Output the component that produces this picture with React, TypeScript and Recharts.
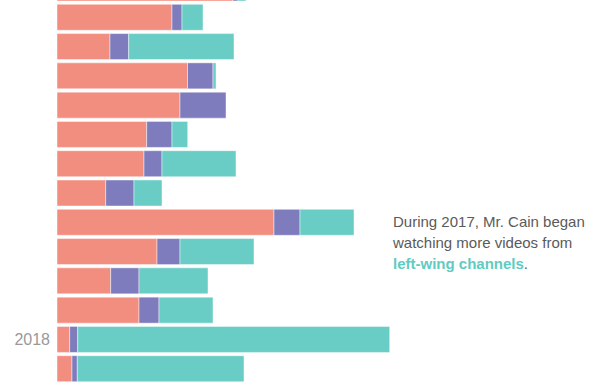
import React from "react";
import { BarChart, Bar, XAxis, YAxis } from "recharts";

const months = [
  "Jan 2017", "Feb 2017", "Mar 2017", "Apr 2017", "May 2017", "Jun 2017", "Jul 2017",
  "Aug 2017", "Sep 2017", "Oct 2017", "Nov 2017", "Dec 2017", "Jan 2018", "Feb 2018",
];
const tickLabels = ["", "", "", "", "", "", "", "", "", "", "", "", "2018", ""];
const rightWing = [176, 115, 53, 130.5, 123, 89.7, 87, 48.7, 217, 100, 53.7, 82, 12.7, 15];
const neutral = [5, 10, 18.7, 25.5, 46, 25.3, 18, 28.3, 26, 23, 28.3, 20, 8, 5.3];
const leftWing = [8, 21, 105.3, 3, 0, 15.7, 74, 28, 54, 74, 69, 54, 312, 166.7];

const data = months.map((m, i) => ({
  month: m,
  right: rightWing[i],
  neutral: neutral[i],
  left: leftWing[i],
}));

const yearTick = (v: string) => tickLabels[months.indexOf(v)] ?? "";

export default function App() {
  return (
    <div
      style={{
        position: "absolute",
        left: 0,
        top: 0,
        width: 601,
        height: 385,
        overflow: "hidden",
        background: "#fff",
      }}
    >
      <div style={{ position: "absolute", left: 0, top: -27 }}>
        <BarChart
          width={601}
          height={410}
          data={data}
          layout="vertical"
          margin={{ top: 0, right: 0, bottom: 0, left: 0 }}
          barSize={26}
        >
          <XAxis type="number" domain={[0, 544]} hide />
          <YAxis
            type="category"
            dataKey="month"
            width={57}
            axisLine={false}
            tickLine={false}
            tickSize={0}
            tickMargin={7}
            interval={0}
            tickFormatter={yearTick}
            tick={{ fill: "#999", fontSize: 16, fontFamily: "Liberation Sans, Arial, sans-serif" }}
          />
          <Bar dataKey="right" stackId="a" fill="#F28E80" stroke="rgba(255,255,255,0.45)" strokeWidth={1} isAnimationActive={false} />
          <Bar dataKey="neutral" stackId="a" fill="#7E7CBD" stroke="rgba(255,255,255,0.45)" strokeWidth={1} isAnimationActive={false} />
          <Bar dataKey="left" stackId="a" fill="#69CDC6" stroke="rgba(255,255,255,0.45)" strokeWidth={1} isAnimationActive={false} />
        </BarChart>
      </div>
      <div
        style={{
          position: "absolute",
          left: 393,
          top: 211,
          width: 210,
          fontFamily: "Liberation Sans, Arial, sans-serif",
          fontSize: 15,
          lineHeight: "21px",
          color: "#5a5a5a",
          whiteSpace: "nowrap",
        }}
      >
        During 2017, Mr. Cain began
        <br />
        watching more videos from
        <br />
        <span style={{ color: "#5FCBC2", fontWeight: 700 }}>left-wing channels</span>.
      </div>
    </div>
  );
}
